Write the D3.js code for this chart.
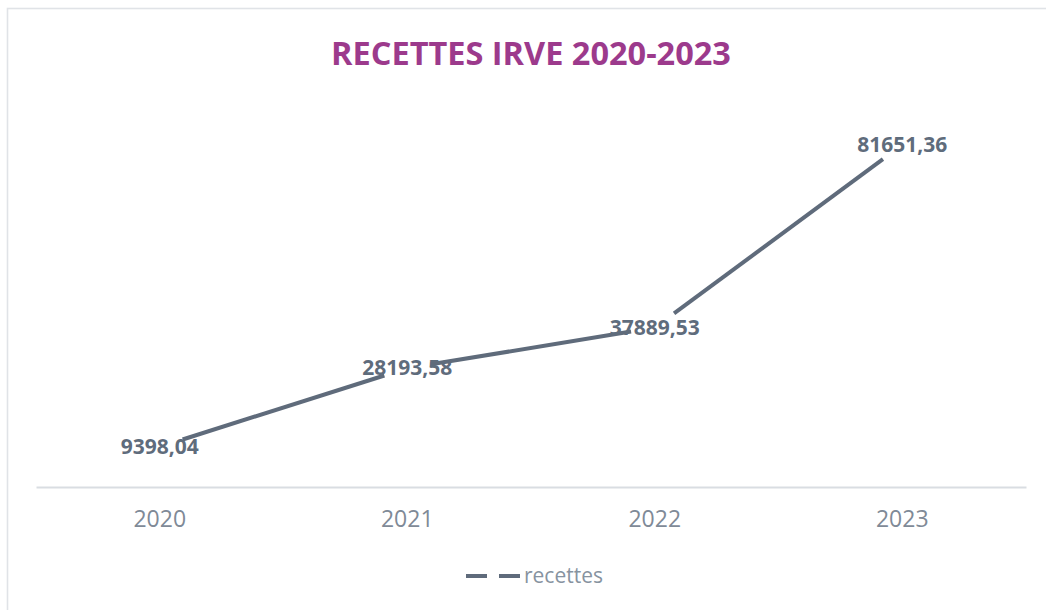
<!DOCTYPE html>
<html>
<head>
<meta charset="utf-8">
<script src="https://cdn.jsdelivr.net/npm/d3@7"></script>
<style>
  html, body { margin: 0; padding: 0; background: #ffffff; }
  svg { display: block; }
</style>
</head>
<body>
<svg id="chart" width="1046" height="610"></svg>
<script>
const categories = ["2020", "2021", "2022", "2023"];
const recettes = [9398.04, 28193.58, 37889.53, 81651.36];
const valueLabels = ["9398,04", "28193,58", "37889,53", "81651,36"];
const seriesName = "recettes";
const chartTitle = "RECETTES IRVE 2020-2023";
const yDomain = [0, 90000];

const svg = d3.select("#chart");
const lineColor = "#5f6b7b";

// outer chart frame (extends past the picture on the right/bottom)
svg.append("rect")
  .attr("x", 7.5).attr("y", 8.5)
  .attr("width", 1200).attr("height", 800)
  .attr("fill", "#ffffff")
  .attr("stroke", "#e0e3e7").attr("stroke-width", 1.6);

const x = d3.scaleBand().domain(categories).range([36, 1026]).padding(0);
const y = d3.scaleLinear().domain(yDomain).range([486, 110]);

// title
svg.append("text")
  .attr("x", (36 + 1026) / 2).attr("y", 65)
  .attr("text-anchor", "middle")
  .attr("font-family", "'Open Sans', sans-serif")
  .attr("font-weight", 700)
  .attr("font-size", 32.5)
  .attr("fill", "#9c3a8c")
  .text(chartTitle);

// x axis
const xAxis = d3.axisBottom(x).tickSize(0).tickPadding(24);
const gx = svg.append("g").attr("transform", `translate(0,${y(0) + 1})`).call(xAxis);
gx.select(".domain").attr("stroke", "#d9dde2").attr("stroke-width", 2);
gx.selectAll(".tick text")
  .attr("font-family", "'Open Sans', sans-serif")
  .attr("font-size", 23)
  .attr("fill", "#7f8a97");

// points
const pts = categories.map((c, i) => [x(c) + x.bandwidth() / 2, y(recettes[i])]);

// line segments with a gap around each data point (as in the reference)
const gap = 24;
const segs = [];
for (let i = 0; i < pts.length - 1; i++) {
  const [x0, y0] = pts[i], [x1, y1] = pts[i + 1];
  const len = Math.hypot(x1 - x0, y1 - y0);
  const ux = (x1 - x0) / len, uy = (y1 - y0) / len;
  segs.push([[x0 + ux * gap, y0 + uy * gap], [x1 - ux * gap, y1 - uy * gap]]);
}
const lineGen = d3.line();
svg.append("g").selectAll("path").data(segs).join("path")
  .attr("d", d => lineGen(d))
  .attr("fill", "none")
  .attr("stroke", lineColor)
  .attr("stroke-width", 4)
  .attr("stroke-linecap", "butt");

// data labels centred on points
svg.append("g").selectAll("text").data(pts).join("text")
  .attr("x", d => d[0])
  .attr("y", d => d[1] + 7)
  .attr("text-anchor", "middle")
  .attr("font-family", "'Open Sans', sans-serif")
  .attr("font-weight", 700)
  .attr("font-size", 21)
  .attr("fill", "#5f6c7c")
  .text((d, i) => valueLabels[i]);

// legend
const lg = svg.append("g");
lg.append("line")
  .attr("x1", 466).attr("x2", 520)
  .attr("y1", 576).attr("y2", 576)
  .attr("stroke", lineColor).attr("stroke-width", 4)
  .attr("stroke-dasharray", "21,12");
lg.append("text")
  .attr("x", 524).attr("y", 583)
  .attr("font-family", "'Open Sans', sans-serif")
  .attr("font-size", 21)
  .attr("fill", "#8793a0")
  .text(seriesName);
</script>
</body>
</html>
